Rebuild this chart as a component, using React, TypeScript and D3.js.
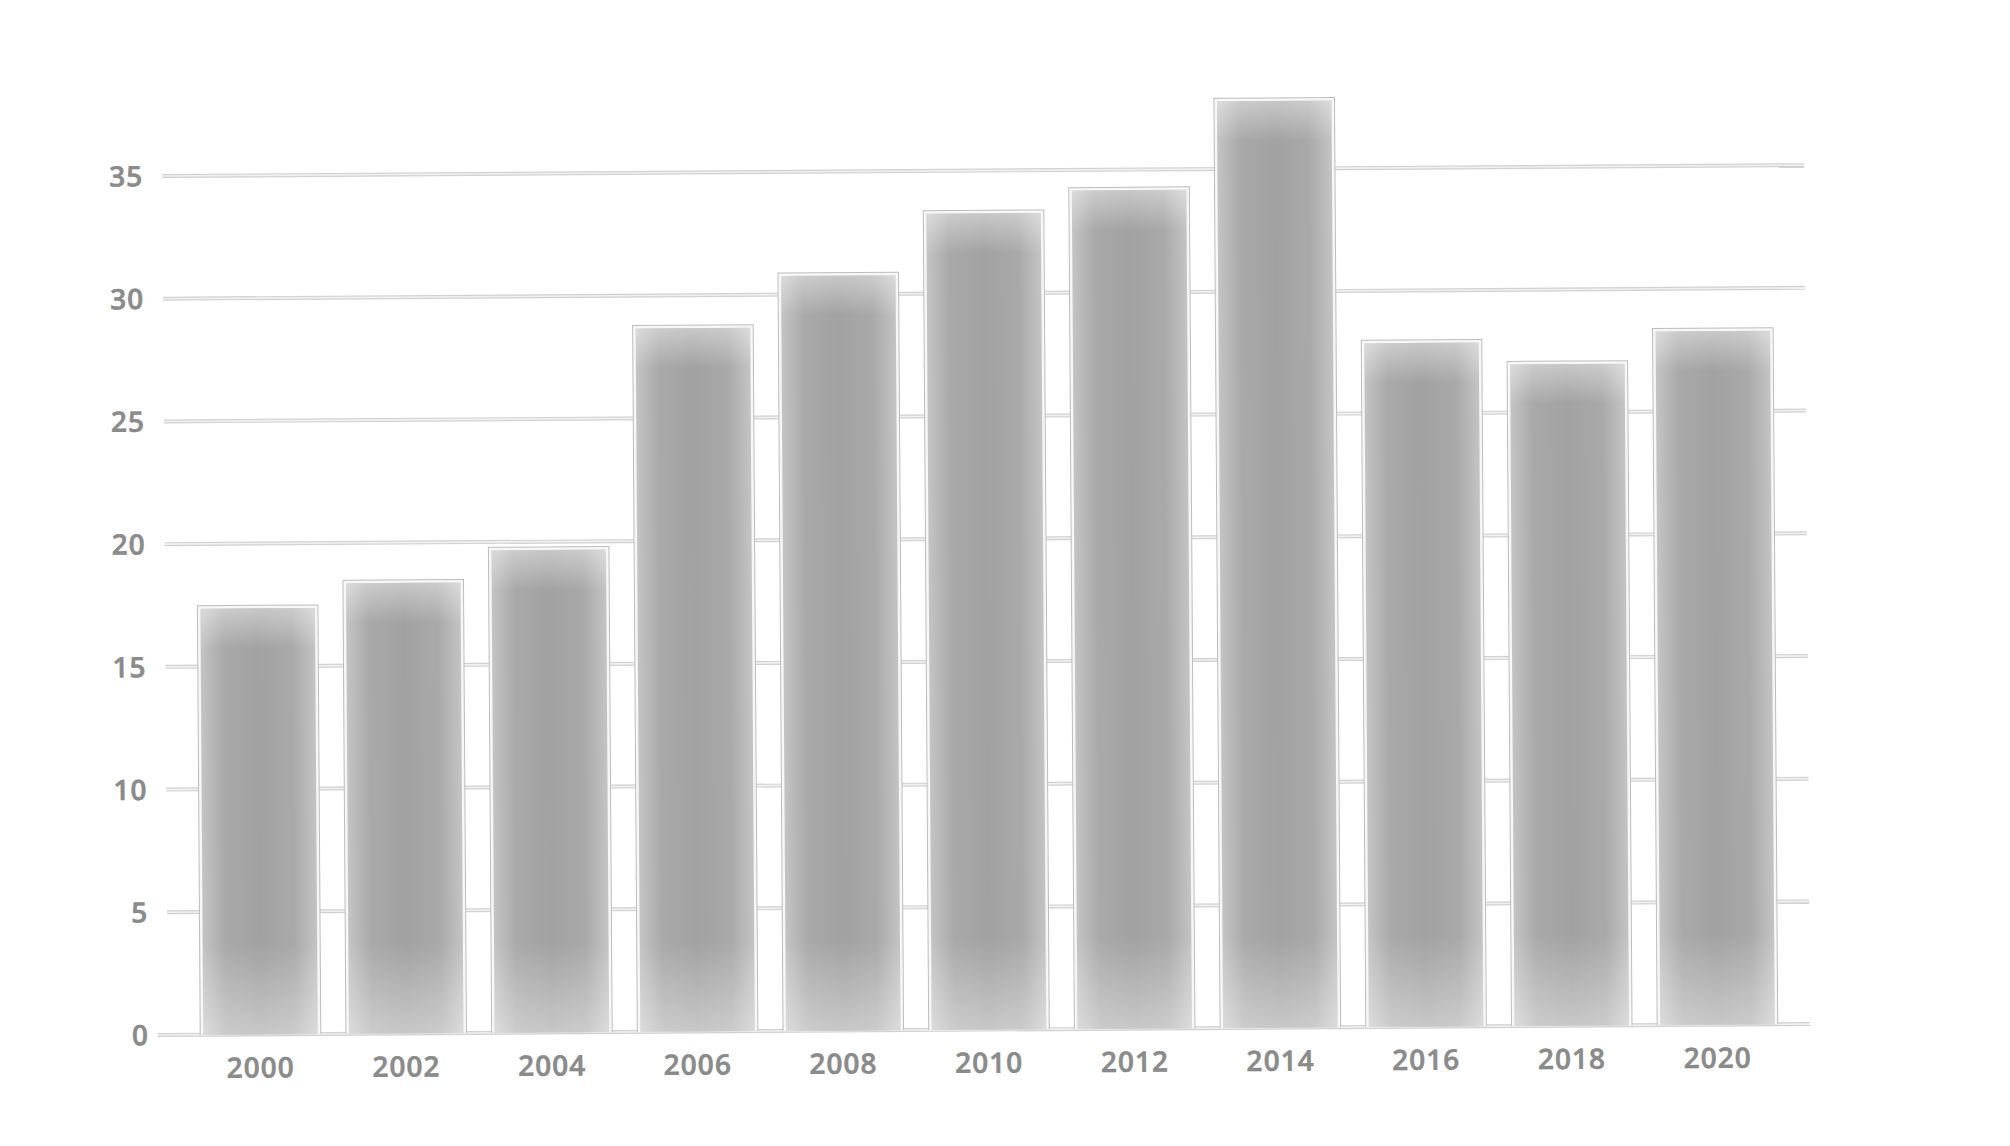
import * as d3 from "d3";

const years = ["2000", "2002", "2004", "2006", "2008", "2010", "2012", "2014", "2016", "2018", "2020"];
const values = [17.4, 18.4, 19.7, 28.7, 30.8, 33.3, 34.2, 37.8, 27.9, 27.0, 28.3];
const yTicks = [0, 5, 10, 15, 20, 25, 30, 35];

const width = 2010;
const height = 1146;
const left = 168;
const right = 1810;
const bottom = 1035;
const top = 176;

const fontFamily = "'Open Sans', 'Noto Sans', sans-serif";

export default function App() {
  const x = d3
    .scaleBand<string>()
    .domain(years)
    .range([left, right])
    .paddingInner(0.2)
    .paddingOuter(0.235);

  const y = d3.scaleLinear().domain([0, 35]).range([bottom, top]);

  const bw = x.bandwidth();

  const labelProps = {
    fontFamily,
    fontWeight: 600,
    fontSize: 28,
    letterSpacing: 1,
    fill: "#8c8c8c",
    stroke: "#7c7c7c",
    strokeWidth: 0.5,
  };

  return (
    <svg
      width={width}
      height={height}
      viewBox={`0 0 ${width} ${height}`}
      style={{ position: "absolute", left: 0, top: 0, display: "block", background: "#fff" }}
    >
      <defs>
        <linearGradient id="barH" x1="0" x2="1" y1="0" y2="0">
          <stop offset="0" stopColor="#c4c4c4" />
          <stop offset="0.2" stopColor="#a9a9a9" />
          <stop offset="0.5" stopColor="#a2a2a2" />
          <stop offset="0.8" stopColor="#a9a9a9" />
          <stop offset="1" stopColor="#c4c4c4" />
        </linearGradient>
        {/* top and bottom fades fixed in pixels, so each bar gets its own */}
        {years.map((yr, i) => {
          const bh = bottom - y(values[i]);
          return (
            <linearGradient key={yr} id={`barV${i}`} x1="0" x2="0" y1="0" y2="1">
              <stop offset="0" stopColor="#fff" stopOpacity={0.4} />
              <stop offset={40 / bh} stopColor="#fff" stopOpacity={0} />
              <stop offset={1 - 90 / bh} stopColor="#fff" stopOpacity={0} />
              <stop offset="1" stopColor="#fff" stopOpacity={0.4} />
            </linearGradient>
          );
        })}
      </defs>
      {/* whole chart leans a touch, like the hand-drawn original */}
      <g transform={`rotate(-0.38 ${left} ${bottom})`}>
        {/* Gridlines */}
        {yTicks.map((t) => (
          <g key={t}>
            <line
              x1={t === 0 ? left - 10 : left}
              x2={right}
              y1={y(t)}
              y2={y(t)}
              stroke="#d2d2d2"
              strokeWidth={4}
            />
            <line
              x1={t === 0 ? left - 10 : left}
              x2={right}
              y1={y(t)}
              y2={y(t)}
              stroke="#f0f0f0"
              strokeWidth={1.6}
            />
          </g>
        ))}

        {/* Y labels */}
        {yTicks.map((t) => (
          <text key={t} x={149} y={y(t)} dy="0.36em" textAnchor="end" {...labelProps}>
            {t}
          </text>
        ))}

        {/* Bars */}
        {years.map((yr, i) => {
          const bx = x(yr) ?? 0;
          const by = y(values[i]);
          const bh = bottom - by;
          return (
            <g key={yr}>
              <rect x={bx - 2.5} y={by - 2.5} width={bw + 5} height={bh + 2.5} fill="#bdbdbd" />
              <rect x={bx - 1.5} y={by - 1.5} width={bw + 3} height={bh + 1.5} fill="#f7f7f7" />
              <rect x={bx + 1} y={by + 1} width={bw - 2} height={bh - 1} fill="url(#barH)" />
              <rect x={bx + 1} y={by + 1} width={bw - 2} height={bh - 1} fill={`url(#barV${i})`} />
            </g>
          );
        })}

        {/* X labels */}
        {years.map((yr) => (
          <text
            key={yr}
            x={(x(yr) ?? 0) + bw / 2}
            y={bottom + 33}
            dy="0.36em"
            textAnchor="middle"
            {...labelProps}
          >
            {yr}
          </text>
        ))}
      </g>
    </svg>
  );
}
